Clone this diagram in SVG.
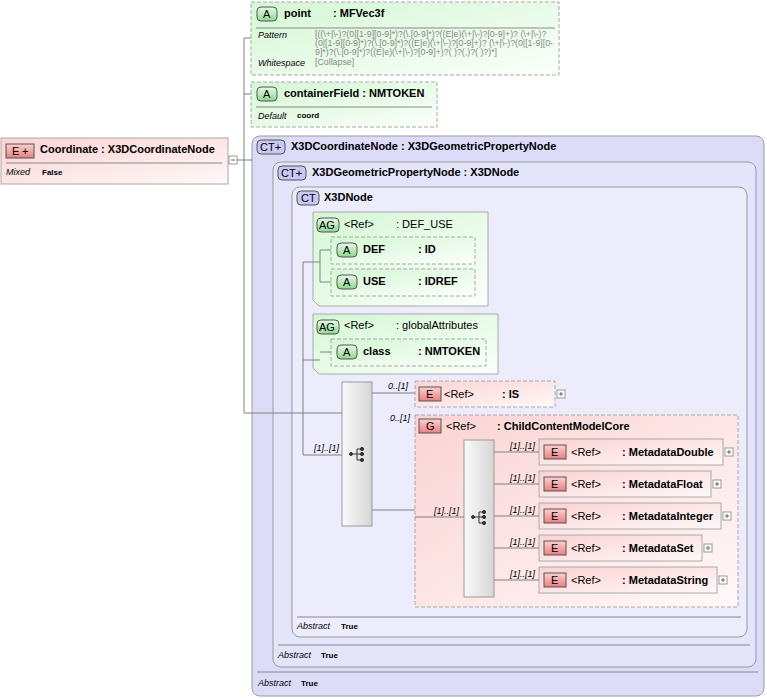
<svg xmlns="http://www.w3.org/2000/svg" width="767" height="699" viewBox="0 0 767 699">
<defs>
<linearGradient id="gG" x1="0" y1="0" x2="1" y2="1"><stop offset="0" stop-color="#d4f7d4"/><stop offset="1" stop-color="#fbfffb"/></linearGradient>
<linearGradient id="gR" x1="0" y1="0" x2="1" y2="1"><stop offset="0" stop-color="#fbd3d3"/><stop offset="1" stop-color="#fff8f8"/></linearGradient>
<linearGradient id="gS" x1="0" y1="0" x2="1" y2="0"><stop offset="0" stop-color="#fafafa"/><stop offset="1" stop-color="#d6d6d6"/></linearGradient>
<linearGradient id="bG" x1="0" y1="0" x2="0" y2="1"><stop offset="0" stop-color="#e8fbe8"/><stop offset="1" stop-color="#8fd68f"/></linearGradient>
<linearGradient id="bR" x1="0" y1="0" x2="0" y2="1"><stop offset="0" stop-color="#fbd0d0"/><stop offset="1" stop-color="#e88080"/></linearGradient>
</defs>
<style>
text{font-family:"Liberation Sans",Arial,sans-serif;font-size:11px;fill:#000}
.b{font-weight:bold}
.lab{font-style:italic;font-size:9px}
.v{font-size:8px;font-weight:bold}
.pat{font-size:8.8px;fill:#888}
.m{font-style:italic;font-size:9px}
.ln{stroke:#808080;fill:none;stroke-width:1}
.dashG{fill:url(#gG);stroke:#aaa;stroke-dasharray:4,2}
.dashR{fill:url(#gR);stroke:#aaa;stroke-dasharray:4,2}
.solR{fill:url(#gR);stroke:#aaa}
.ct{stroke:#999;fill:#dcdcf8}
.ctin{stroke:#999;fill:#e4e4fa}
.ctin2{stroke:#999;fill:#ececfc}
.bA{fill:url(#bG);stroke:#555}
.bE{fill:url(#bR);stroke:#555}
.bC{fill:#c8c8f4;stroke:#555}
.sep{stroke:#888}
.pl{fill:#fff;stroke:#999}
</style>
<g id="coordinate">
<rect x="1" y="138" width="227" height="46" fill="url(#gR)" stroke="#aaa"/>
<rect x="6" y="144" width="28" height="14" class="bE"/>
<text x="12" y="155" font-size="10">E</text><text x="22" y="155" font-size="10">+</text>
<text x="40" y="153" class="b">Coordinate : X3DCoordinateNode</text>
<line x1="6" y1="163" x2="222" y2="163" class="sep"/>
<text x="6" y="175" class="lab">Mixed</text><text x="42" y="175" class="v">False</text>
<rect x="229" y="156" width="8" height="8" class="pl"/><line x1="231" y1="160" x2="235" y2="160" stroke="#666"/>
</g>
<g id="point">
<rect x="251" y="2" width="308" height="73" class="dashG"/>
<rect x="257" y="7" width="20" height="14" rx="4" class="bA"/><text x="263" y="18" font-size="10">A</text>
<text x="284" y="17" class="b">point</text><text x="333" y="17" class="b">: MFVec3f</text>
<line x1="256" y1="28" x2="555" y2="28" class="sep"/>
<text x="258" y="38" class="lab">Pattern</text>
<text x="315" y="37" class="pat">[((\+|\-)?(0|[1-9][0-9]*)?(\.[0-9]*)?((E|e)(\+|\-)?[0-9]+)? (\+|\-)?</text>
<text x="315" y="46" class="pat">(0|[1-9][0-9]*)?(\.[0-9]*)?((E|e)(\+|\-)?[0-9]+)? (\+|\-)?(0|[1-9][0-</text>
<text x="315" y="55" class="pat">9]*)?(\.[0-9]*)?((E|e)(\+|\-)?[0-9]+)?( )?(,)?( )?)*]</text>
<text x="258" y="66" class="lab">Whitespace</text><text x="315" y="65" class="pat">[Collapse]</text>
</g>
<g id="containerField">
<rect x="251" y="82" width="186" height="45" class="dashG"/>
<rect x="257" y="87" width="20" height="14" rx="4" class="bA"/><text x="263" y="98" font-size="10">A</text>
<text x="284" y="97" class="b">containerField : NMTOKEN</text>
<line x1="256" y1="107" x2="432" y2="107" class="sep"/>
<text x="258" y="119" class="lab">Default</text><text x="297" y="118" class="v">coord</text>
</g>
<g id="X3DCoordinateNode">
<rect x="252" y="136" width="512" height="560" rx="8" class="ct"/>
<rect x="257" y="140" width="28" height="14" rx="4" class="bC"/><text x="260" y="151" font-size="10">CT+</text>
<text x="291" y="150" class="b">X3DCoordinateNode : X3DGeometricPropertyNode</text>
<line x1="257" y1="672" x2="758" y2="672" class="sep"/>
<text x="258" y="686" class="lab">Abstract</text><text x="301" y="686" class="v">True</text>
</g>
<g id="X3DGeometricPropertyNode">
<rect x="273" y="162" width="483" height="505" rx="8" class="ctin"/>
<rect x="278" y="166" width="28" height="14" rx="4" class="bC"/><text x="281" y="177" font-size="10">CT+</text>
<text x="312" y="176" class="b">X3DGeometricPropertyNode : X3DNode</text>
<line x1="278" y1="645" x2="750" y2="645" class="sep"/>
<text x="278" y="658" class="lab">Abstract</text><text x="321" y="658" class="v">True</text>
</g>
<g id="X3DNode">
<rect x="292" y="187" width="455" height="450" rx="8" class="ctin2"/>
<rect x="297" y="191" width="22" height="14" rx="4" class="bC"/><text x="301" y="202" font-size="10">CT</text>
<text x="324" y="201" class="b">X3DNode</text>
<line x1="297" y1="617" x2="741" y2="617" class="sep"/>
<text x="297" y="629" class="lab">Abstract</text><text x="341" y="629" class="v">True</text>
</g>
<g id="DEF_USE">
<path d="M313,212H488V306H319L313,300Z" fill="url(#gG)" stroke="#aaa"/>
<rect x="317" y="218" width="22" height="14" rx="4" class="bA"/><text x="319" y="229" font-size="10">AG</text>
<text x="344" y="228">&lt;Ref&gt;</text><text x="396" y="228">: DEF_USE</text>
</g>
<g id="DEF">
<rect x="331" y="237" width="144" height="27" class="dashG"/>
<rect x="337" y="243" width="20" height="14" rx="4" class="bA"/><text x="343" y="254" font-size="10">A</text>
<text x="363" y="253" class="b">DEF</text><text x="418" y="253" class="b">: ID</text>
</g>
<g id="USE">
<rect x="331" y="269" width="144" height="27" class="dashG"/>
<rect x="337" y="275" width="20" height="14" rx="4" class="bA"/><text x="343" y="286" font-size="10">A</text>
<text x="363" y="285" class="b">USE</text><text x="418" y="285" class="b">: IDREF</text>
</g>
<g id="globalAttributes">
<path d="M313,314H498V374H319L313,368Z" fill="url(#gG)" stroke="#aaa"/>
<rect x="317" y="320" width="22" height="14" rx="4" class="bA"/><text x="319" y="331" font-size="10">AG</text>
<text x="344" y="329">&lt;Ref&gt;</text><text x="396" y="329">: globalAttributes</text>
</g>
<g id="class">
<rect x="331" y="339" width="155" height="27" class="dashG"/>
<rect x="337" y="345" width="20" height="14" rx="4" class="bA"/><text x="343" y="356" font-size="10">A</text>
<text x="363" y="355" class="b">class</text><text x="418" y="355" class="b">: NMTOKEN</text>
</g>
<g id="seq1">
<rect x="342" y="382" width="30" height="144" fill="url(#gS)" stroke="#999"/>
<g fill="#333" stroke="#333"><circle cx="351" cy="454" r="1.5"/><line x1="351" y1="454" x2="357" y2="454"/><path d="M357,449V460M357,449H361M357,454H361M357,460H361" fill="none"/><circle cx="362" cy="449" r="1.6"/><circle cx="362" cy="454" r="1.6"/><circle cx="362" cy="460" r="1.6"/></g>
<text x="314" y="451" class="m">[1]..[1]</text>
<text x="388" y="389" class="m">0..[1]</text>
<text x="390" y="421" class="m">0..[1]</text>
</g>
<g id="IS">
<rect x="415" y="381" width="140" height="26" class="dashR"/>
<rect x="419" y="387" width="22" height="14" class="bE"/><text x="426" y="398" font-size="10">E</text>
<text x="444" y="398">&lt;Ref&gt;</text><text x="502" y="398" class="b">: IS</text>
<rect x="557" y="390" width="8" height="8" class="pl"/><path d="M559,394H563M561,392V396" stroke="#666"/>
</g>
<g id="ChildContentModelCore">
<rect x="415" y="415" width="323" height="192" class="dashR"/>
<rect x="419" y="419" width="22" height="14" class="bE"/><text x="426" y="430" font-size="10">G</text>
<text x="446" y="430">&lt;Ref&gt;</text><text x="497" y="430" class="b">: ChildContentModelCore</text>
<text x="434" y="514" class="m">[1]..[1]</text>
</g>
<g id="seq2">
<rect x="464" y="440" width="30" height="157" fill="url(#gS)" stroke="#999"/>
<g fill="#333" stroke="#333"><circle cx="473" cy="517" r="1.5"/><line x1="473" y1="517" x2="479" y2="517"/><path d="M479,512V523M479,512H483M479,517H483M479,523H483" fill="none"/><circle cx="484" cy="512" r="1.6"/><circle cx="484" cy="517" r="1.6"/><circle cx="484" cy="523" r="1.6"/></g>
<text x="510" y="449" class="m">[1]..[1]</text>
<text x="510" y="481" class="m">[1]..[1]</text>
<text x="510" y="513" class="m">[1]..[1]</text>
<text x="510" y="545" class="m">[1]..[1]</text>
<text x="510" y="577" class="m">[1]..[1]</text>
</g>
<g id="MetadataDouble">
<rect x="539" y="439" width="184" height="26" class="solR"/>
<rect x="544" y="445" width="22" height="14" class="bE"/><text x="551" y="456" font-size="10">E</text>
<text x="571" y="456">&lt;Ref&gt;</text><text x="622" y="456" class="b">: MetadataDouble</text>
<rect x="725" y="448" width="8" height="8" class="pl"/><path d="M727,452H731M729,450V454" stroke="#666"/>
</g>
<g id="MetadataFloat">
<rect x="539" y="471" width="172" height="26" class="solR"/>
<rect x="544" y="477" width="22" height="14" class="bE"/><text x="551" y="488" font-size="10">E</text>
<text x="571" y="488">&lt;Ref&gt;</text><text x="622" y="488" class="b">: MetadataFloat</text>
<rect x="713" y="480" width="8" height="8" class="pl"/><path d="M715,484H719M717,482V486" stroke="#666"/>
</g>
<g id="MetadataInteger">
<rect x="539" y="503" width="182" height="26" class="solR"/>
<rect x="544" y="509" width="22" height="14" class="bE"/><text x="551" y="520" font-size="10">E</text>
<text x="571" y="520">&lt;Ref&gt;</text><text x="622" y="520" class="b">: MetadataInteger</text>
<rect x="723" y="512" width="8" height="8" class="pl"/><path d="M725,516H729M727,514V518" stroke="#666"/>
</g>
<g id="MetadataSet">
<rect x="539" y="535" width="163" height="26" class="solR"/>
<rect x="544" y="541" width="22" height="14" class="bE"/><text x="551" y="552" font-size="10">E</text>
<text x="571" y="552">&lt;Ref&gt;</text><text x="622" y="552" class="b">: MetadataSet</text>
<rect x="704" y="544" width="8" height="8" class="pl"/><path d="M706,548H710M708,546V550" stroke="#666"/>
</g>
<g id="MetadataString">
<rect x="539" y="567" width="178" height="26" class="solR"/>
<rect x="544" y="573" width="22" height="14" class="bE"/><text x="551" y="584" font-size="10">E</text>
<text x="571" y="584">&lt;Ref&gt;</text><text x="622" y="584" class="b">: MetadataString</text>
<rect x="719" y="576" width="8" height="8" class="pl"/><path d="M721,580H725M723,578V582" stroke="#666"/>
</g>
<g id="connectors">
<path class="ln" d="M237,160H244M244,38V413M244,38H251M244,94H251M244,160H252M244,413H342"/>
<path class="ln" d="M303,262V455M303,262H320M320,250V282M320,250H331M320,282H331M303,360H320M320,352H331M303,455H342"/>
<path class="ln" d="M372,393H415M372,510H415M415,517H464M494,452H539M494,484H539M494,516H539M494,548H539M494,580H539"/>
</g>
</svg>
